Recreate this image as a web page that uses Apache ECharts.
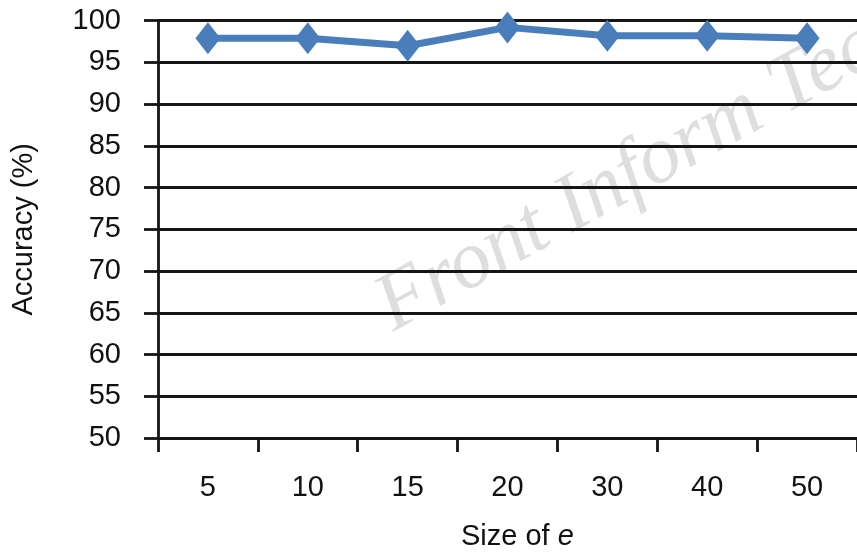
<!DOCTYPE html>
<html>
<head>
<meta charset="utf-8">
<script src="https://cdn.jsdelivr.net/npm/echarts@6/dist/echarts.min.js"></script>
<style>
html,body{margin:0;padding:0;background:#fff;}
#chart{width:857px;height:553px;}
</style>
</head>
<body>
<div id="chart"></div>
<script>
var categories = ['5', '10', '15', '20', '30', '40', '50'];
var accuracy = [97.9, 97.9, 97.0, 99.2, 98.2, 98.2, 97.9];
var yMin = 50, yMax = 100, yStep = 5;

var chart = echarts.init(document.getElementById('chart'));
var FONT = '"Liberation Sans", Arial, sans-serif';
var lineColor = '#151515';
chart.setOption({
  backgroundColor: '#fff',
  animation: false,
  grid: { left: 158, right: 0, top: 20.7, bottom: 115 },
  xAxis: {
    type: 'category',
    data: categories,
    boundaryGap: true,
    axisLine: { show: true, lineStyle: { color: lineColor, width: 2.8 } },
    axisTick: { show: true, length: 14, alignWithLabel: false, lineStyle: { color: lineColor, width: 2.8 } },
    axisLabel: { margin: 35, fontSize: 29, color: '#111', fontFamily: FONT },
    splitLine: { show: false }
  },
  yAxis: {
    type: 'value',
    min: yMin, max: yMax, interval: yStep,
    name: 'Accuracy (%)',
    nameLocation: 'middle',
    nameGap: 120,
    nameTextStyle: { fontSize: 29, color: '#111', fontFamily: FONT },
    axisLine: { show: true, lineStyle: { color: lineColor, width: 2.8 } },
    axisTick: { show: true, length: 14, lineStyle: { color: lineColor, width: 2.8 } },
    axisLabel: { margin: 37, fontSize: 29, color: '#111', fontFamily: FONT },
    splitLine: { show: true, lineStyle: { color: lineColor, width: 2.8 } }
  },
  graphic: [
    {
      type: 'text',
      left: 461, top: 522,
      style: {
        text: '{n|Size of }{e|e}',
        rich: {
          n: { fontSize: 29, fill: '#111', fontFamily: FONT },
          e: { fontSize: 29, fill: '#111', fontFamily: FONT, fontStyle: 'italic' }
        }
      }
    },
    {
      type: 'text',
      x: 363, y: 277,
      rotation: 29 * Math.PI / 180,
      z: -1,
      silent: true,
      style: {
        text: 'Front Inform Technol',
        fontSize: 82,
        fontStyle: 'italic',
        fontFamily: '"Liberation Serif", "DejaVu Serif", serif',
        fill: 'rgba(190,190,190,0.5)',
        verticalAlign: 'alphabetic',
        align: 'left'
      }
    }
  ],
  series: [{
    type: 'line',
    data: accuracy,
    symbol: 'diamond',
    symbolSize: [25, 32],
    lineStyle: { color: '#4a7ebb', width: 7 },
    itemStyle: { color: '#4a7ebb' },
    z: 5
  }]
});
</script>
</body>
</html>
